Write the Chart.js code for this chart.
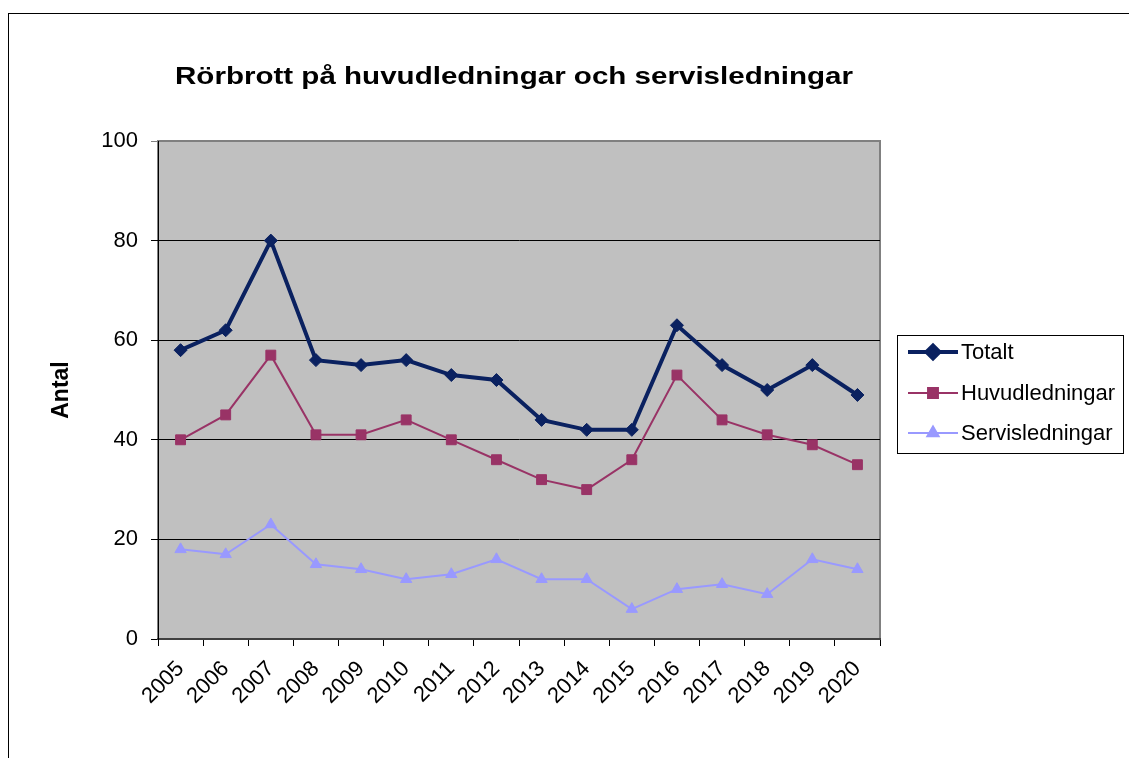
<!DOCTYPE html>
<html>
<head>
<meta charset="utf-8">
<title>Rörbrott</title>
<script src="https://cdn.jsdelivr.net/npm/chart.js@4/dist/chart.umd.min.js"></script>
<style>
	body { margin: 0; background: #fff; }
	canvas { display: block; }
</style>
</head>
<body>
<canvas id="myChart" width="1129" height="758"></canvas>
<script>
	'use strict';

	var years = ['2005', '2006', '2007', '2008', '2009', '2010', '2011', '2012', '2013', '2014', '2015', '2016', '2017', '2018', '2019', '2020'];
	var totalt = [58, 62, 80, 56, 55, 56, 53, 52, 44, 42, 42, 63, 55, 50, 55, 49];
	var huvudledningar = [40, 45, 57, 41, 41, 44, 40, 36, 32, 30, 36, 53, 44, 41, 39, 35];
	var servisledningar = [18, 17, 23, 15, 14, 12, 13, 16, 12, 12, 6, 10, 11, 9, 16, 14];
	var yMin = 0, yMax = 100, yStep = 20;

	var titleText = 'Rörbrott på huvudledningar och servisledningar';
	var yTitle = 'Antal';
	var fontName = '"Liberation Sans", Arial, sans-serif';

	// frame, gray plot area, title and the boxed legend on the right
	var decor = {
		id : 'decor',
		beforeDraw : function(chart) {
			var c = chart.ctx, a = chart.chartArea;
			c.save();
			c.fillStyle = '#fff';
			c.fillRect(0, 0, chart.width, chart.height);
			c.strokeStyle = '#000';
			c.lineWidth = 1;
			c.strokeRect(8.5, 13.5, 1300, 900);
			c.fillStyle = '#c0c0c0';
			c.fillRect(a.left, a.top, a.right - a.left, a.bottom - a.top);
			c.strokeStyle = '#808080';
			c.lineWidth = 2;
			c.strokeRect(a.left, a.top, a.right - a.left, a.bottom - a.top);
			c.restore();
		},
		afterDraw : function(chart) {
			var c = chart.ctx;
			c.save();
			// title is a bit wider than plain Arial, stretch it to fit
			c.fillStyle = '#000';
			c.font = 'bold 24px ' + fontName;
			c.textAlign = 'center';
			c.textBaseline = 'middle';
			var w = c.measureText(titleText).width;
			c.save();
			c.translate(514, 77);
			c.scale(678 / w, 1);
			c.fillText(titleText, 0, 0);
			c.restore();

			// legend
			c.fillStyle = '#fff';
			c.fillRect(897, 335, 226, 118);
			c.strokeStyle = '#000';
			c.lineWidth = 1;
			c.strokeRect(897.5, 335.5, 226, 118);
			var rows = [352, 393, 433];
			chart.data.datasets.forEach(function(ds, i) {
				var y = rows[i];
				c.strokeStyle = ds.borderColor;
				c.lineWidth = ds.borderWidth;
				c.beginPath();
				c.moveTo(908, y);
				c.lineTo(958, y);
				c.stroke();
				c.fillStyle = ds.borderColor;
				Chart.helpers.drawPoint(c, {
					pointStyle : ds.pointStyle,
					radius : ds.pointRadius,
					borderWidth : 1
				}, 933, y);
				c.fillStyle = '#000';
				c.font = '22px ' + fontName;
				c.textAlign = 'left';
				c.fillText(ds.label, 961, y + 1);
			});
			c.restore();
		}
	};

	var ctx = document.getElementById('myChart');

	var myChart = new Chart(ctx, {
		type : 'line',
		data : {
			labels : years,
			datasets : [{
				label : 'Totalt',
				data : totalt,
				borderColor : '#0a2160',
				backgroundColor : '#0a2160',
				borderWidth : 4,
				pointStyle : 'rectRot',
				pointRadius : 6.5,
				pointBorderWidth : 1
			}, {
				label : 'Huvudledningar',
				data : huvudledningar,
				borderColor : '#993366',
				backgroundColor : '#993366',
				borderWidth : 2,
				pointStyle : 'rect',
				pointRadius : 7,
				pointBorderWidth : 1
			}, {
				label : 'Servisledningar',
				data : servisledningar,
				borderColor : '#9999ff',
				backgroundColor : '#9999ff',
				borderWidth : 2,
				pointStyle : 'triangle',
				pointRadius : 6.5,
				pointBorderWidth : 1
			}]
		},
		options : {
			responsive : false,
			animation : false,
			devicePixelRatio : 1,
			layout : {
				padding : { left : 8, top : 141, right : 249, bottom : 0 }
			},
			plugins : {
				legend : { display : false },
				title : { display : false },
				tooltip : { enabled : false }
			},
			scales : {
				x : {
					offset : true,
					afterFit : function(scale) { scale.height = 119; },
					grid : {
						offset : true,
						drawOnChartArea : false,
						drawTicks : true,
						tickLength : 7,
						color : '#000'
					},
					border : { display : true, color : '#404040', width : 2 },
					ticks : {
						color : '#000',
						font : { family : fontName, size : 22 },
						minRotation : 45,
						maxRotation : 45,
						padding : 10,
						autoSkip : false
					}
				},
				y : {
					min : yMin,
					max : yMax,
					afterFit : function(scale) { scale.width = 150; },
					grid : {
						color : function(c) { return c.tick && c.tick.value === yMax ? '#808080' : '#000'; },
						tickLength : 7
					},
					border : { display : true, color : '#000', width : 1 },
					ticks : {
						stepSize : yStep,
						color : '#000',
						font : { family : fontName, size : 22 },
						padding : 13
					},
					title : {
						display : true,
						text : yTitle,
						color : '#000',
						font : { family : fontName, size : 23, weight : 'bold' },
						padding : { top : 40 }
					}
				}
			}
		},
		plugins : [decor]
	});
</script>
</body>
</html>
